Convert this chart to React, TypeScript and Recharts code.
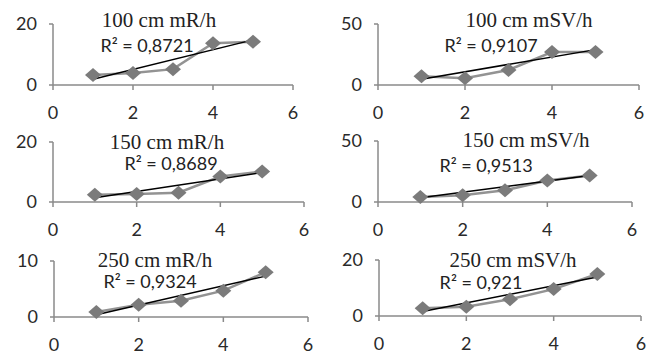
import React from 'react';
import { LineChart, Line, XAxis, YAxis } from 'recharts';

// measurement points (x) shared by all six panels
const xValues = [1, 2, 3, 4, 5];
const xTicks = [0, 2, 4, 6];

const titles = ['100 cm mR/h', '100 cm mSV/h', '150 cm mR/h', '150 cm mSV/h', '250 cm mR/h', '250 cm mSV/h'];
const rSquared = ['R² = 0,8721', 'R² = 0,9107', 'R² = 0,8689', 'R² = 0,9513', 'R² = 0,9324', 'R² = 0,921'];
const yMax = [20, 50, 20, 50, 10, 20];

const mR100 = [3.3, 3.9, 5.2, 13.7, 14.2];
const mSv100 = [7.2, 5.6, 12.3, 27.0, 27.0];
const mR150 = [2.4, 2.7, 3.1, 8.5, 10.2];
const mSv150 = [4.0, 5.6, 9.6, 17.6, 21.8];
const mR250 = [0.9, 2.2, 2.9, 4.7, 8.0];
const mSv250 = [2.8, 3.3, 6.0, 9.6, 15.0];

// linear trendline ends (at x = 1 and x = 5)
const trendStart = [1.9, 4.8, 1.4, 3.4, 0.4, 1.6];
const trendEnd = [14.8, 29.0, 9.8, 21.8, 7.3, 13.9];

const series = [mR100, mSv100, mR150, mSv150, mR250, mSv250];

// plot-area corners in page pixels
const layouts = [
  { left: 53, right: 293, top: 24, bottom: 85 },
  { left: 378, right: 639, top: 24, bottom: 85 },
  { left: 53, right: 304, top: 142, bottom: 202 },
  { left: 378, right: 632, top: 141, bottom: 202 },
  { left: 54, right: 308, top: 261, bottom: 317 },
  { left: 379, right: 641, top: 260, bottom: 316 },
];

// label centres
const titlePos = [
  [159, 20], [529, 20], [167, 142], [526, 140], [155, 260], [513, 260],
];
const r2Pos = [
  [147, 45], [491, 45], [171, 163], [486, 165], [150, 281], [481, 282],
];

const axisColor = '#8a8a8a';
const tickFont = { fontFamily: 'Lato, sans-serif', fontSize: 18, fill: '#2a2a2a' };

const renderDiamond = (props: any) => {
  const { cx, cy, index } = props;
  if (cx == null || cy == null) return <g key={index} />;
  return (
    <polygon
      key={index}
      points={`${cx},${cy - 7} ${cx + 8},${cy} ${cx},${cy + 7} ${cx - 8},${cy}`}
      fill="#7b7b7b"
    />
  );
};

function Panel({ idx }: { idx: number }) {
  const lay = layouts[idx];
  const padL = 50;
  const padT = 14;
  const padR = 16;
  const axisH = 40;
  const width = lay.right - lay.left + padL + padR;
  const height = lay.bottom - lay.top + padT + axisH;

  const points = xValues.map((x, i) => ({ x, y: series[idx][i] }));
  const trend = [
    { x: xValues[0], y: trendStart[idx] },
    { x: xValues[xValues.length - 1], y: trendEnd[idx] },
  ];

  return (
    <div style={{ position: 'absolute', left: lay.left - padL, top: lay.top - padT }}>
      <LineChart width={width} height={height} margin={{ top: padT, right: padR, bottom: 0, left: 0 }}>
        <XAxis
          type="number"
          dataKey="x"
          domain={[0, 6]}
          ticks={xTicks}
          height={axisH}
          tick={tickFont}
          tickSize={5}
          tickMargin={16}
          stroke={axisColor}
          strokeWidth={1.5}
        />
        <YAxis
          type="number"
          domain={[0, yMax[idx]]}
          ticks={[0, yMax[idx]]}
          width={padL}
          tick={tickFont}
          tickSize={4}
          tickMargin={12}
          stroke={axisColor}
          strokeWidth={1.5}
        />
        <Line
          data={points}
          dataKey="y"
          stroke="#939393"
          strokeWidth={2.5}
          dot={renderDiamond}
          activeDot={false}
          isAnimationActive={false}
        />
        <Line
          data={trend}
          dataKey="y"
          stroke="#000"
          strokeWidth={1.5}
          dot={false}
          activeDot={false}
          isAnimationActive={false}
        />
      </LineChart>
    </div>
  );
}

const labelBase: React.CSSProperties = {
  position: 'absolute',
  transform: 'translate(-50%, -50%)',
  whiteSpace: 'nowrap',
  lineHeight: 1,
  color: '#222',
};

export default function App() {
  return (
    <div style={{ position: 'absolute', left: 0, top: 0, width: 656, height: 358, background: '#fff', overflow: 'hidden' }}>
      {titles.map((_, i) => (
        <Panel key={i} idx={i} />
      ))}
      {titles.map((t, i) => (
        <div
          key={'t' + i}
          style={{ ...labelBase, left: titlePos[i][0], top: titlePos[i][1], fontFamily: '"Liberation Serif", serif', fontSize: 21 }}
        >
          {t}
        </div>
      ))}
      {rSquared.map((t, i) => (
        <div
          key={'r' + i}
          style={{ ...labelBase, left: r2Pos[i][0], top: r2Pos[i][1], fontFamily: 'Lato, sans-serif', fontSize: 18 }}
        >
          {t}
        </div>
      ))}
    </div>
  );
}
